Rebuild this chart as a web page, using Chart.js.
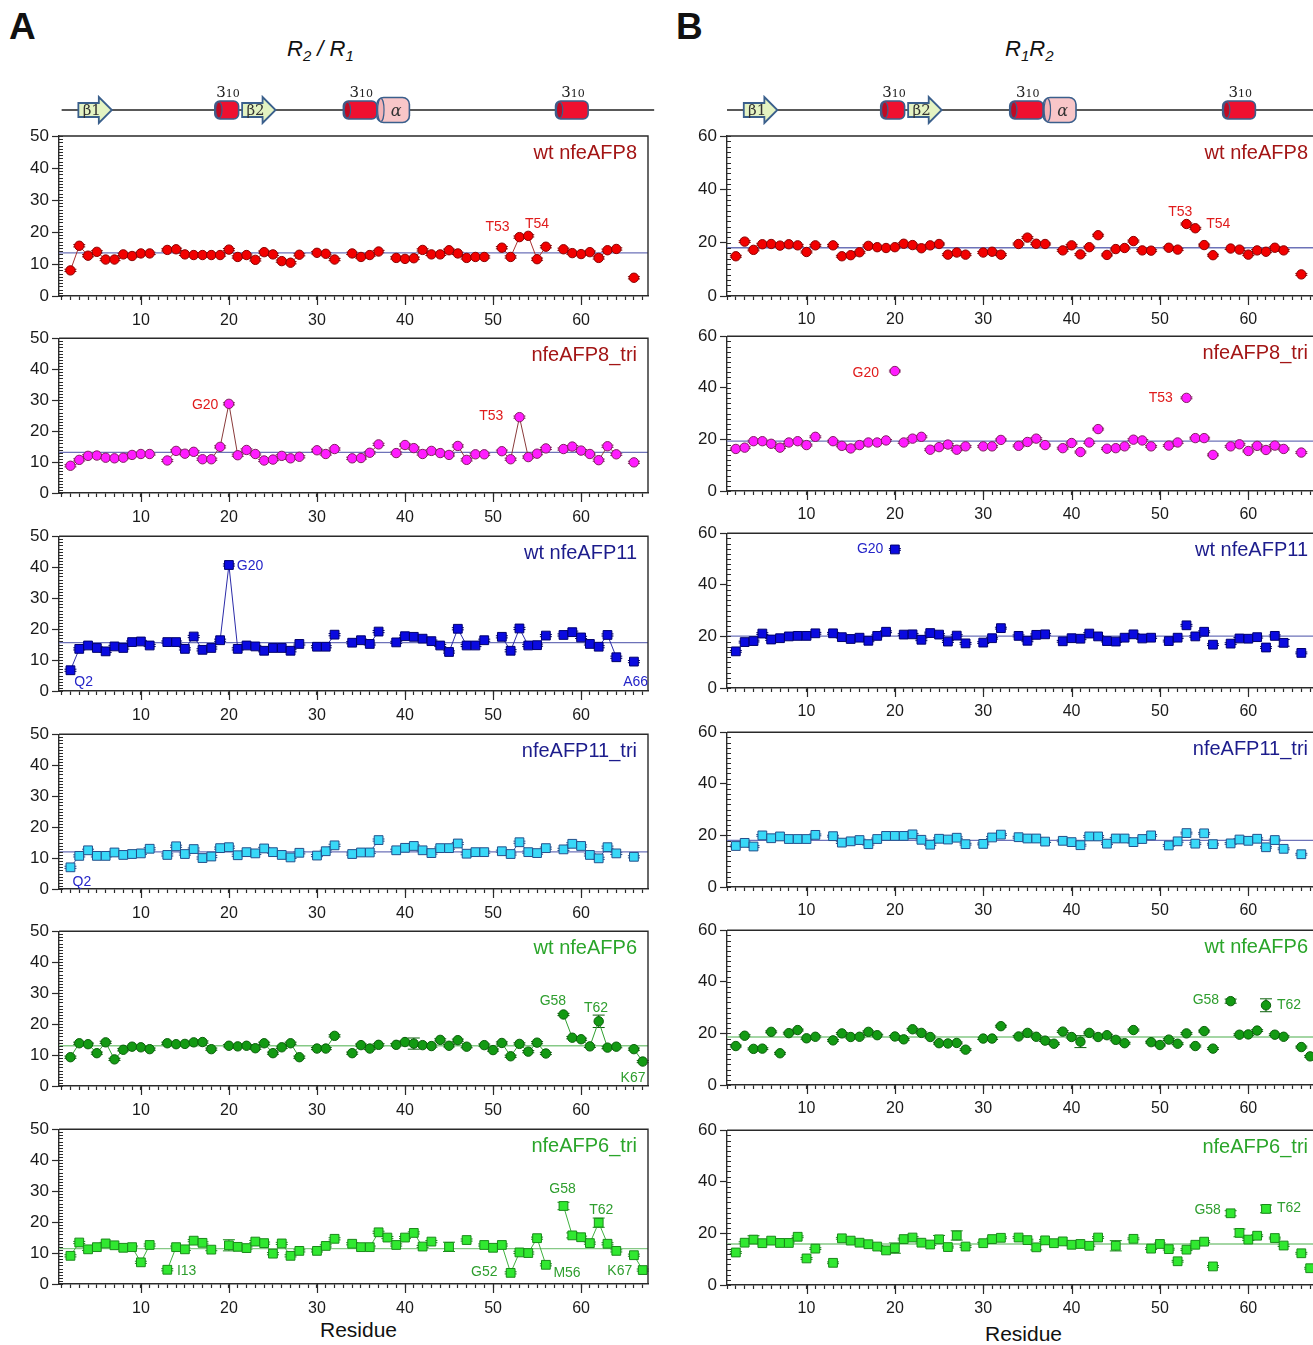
<!DOCTYPE html>
<html>
<head>
<meta charset="utf-8">
<script src="https://cdn.jsdelivr.net/npm/chart.js@4.4.1/dist/chart.umd.min.js"></script>
<style>
  html, body { margin: 0; padding: 0; background: #fff; overflow: hidden; }
  body { width: 1313px; height: 1345px; position: relative; font-family: "Liberation Sans", Arial, sans-serif; color: #111; }
  canvas { position: absolute; }
  .txt { position: absolute; white-space: nowrap; }
  .ttl { font-size: 22px; font-style: italic; }
  .ttl sub { font-size: 15px; }
</style>
</head>
<body>
<div class="txt" style="left:9px;top:6px;font-size:37px;font-weight:bold;">A</div>
<div class="txt" style="left:676px;top:6px;font-size:37px;font-weight:bold;">B</div>
<div class="txt ttl" style="left:287px;top:36px;">R<sub>2</sub> / R<sub>1</sub></div>
<div class="txt ttl" style="left:1005px;top:36px;">R<sub>1</sub>R<sub>2</sub></div>
<div class="txt" style="left:320px;top:1318px;font-size:21px;">Residue</div>
<div class="txt" style="left:985px;top:1322px;font-size:21px;">Residue</div>

<script>
// residue numbers 2..67
const residues = [2,3,4,5,6,7,8,9,10,11,12,13,14,15,16,17,18,19,20,21,22,23,24,25,26,27,28,29,30,31,32,33,34,35,36,37,
  38,39,40,41,42,43,44,45,46,47,48,49,50,51,52,53,54,55,56,57,58,59,60,61,62,63,64,65,66,67];

const panelNames = ['wt nfeAFP8', 'nfeAFP8_tri', 'wt nfeAFP11', 'nfeAFP11_tri', 'wt nfeAFP6', 'nfeAFP6_tri'];

// ---- A: R2/R1 ----
const r2r1Wt8 = [8.0,15.7,12.6,13.8,11.4,11.4,13.0,12.5,13.3,13.3,
  null,14.4,14.6,13.0,12.8,12.8,12.8,12.8,14.5,12.2,
  12.8,11.3,13.7,13.0,10.9,10.4,12.9,null,13.5,13.2,
  11.4,null,13.3,12.2,12.8,13.9,null,11.9,11.6,11.8,
  14.4,13.0,13.0,14.3,13.3,11.9,12.2,12.2,null,15.1,
  12.2,18.4,18.8,11.5,15.4,null,14.6,13.4,13.1,13.7,
  11.9,14.3,14.7,null,5.7,null];
const r2r1Tri8 = [8.8,10.7,12.0,12.1,11.4,11.2,11.4,12.3,12.6,12.6,
  null,10.5,13.6,12.7,13.3,10.9,10.9,14.9,28.8,12.2,
  13.9,12.6,10.5,10.8,12.0,11.2,11.7,null,13.8,12.6,
  14.2,null,11.2,11.3,13.0,15.7,null,12.9,15.5,14.5,
  12.6,13.6,12.9,12.3,15.2,10.7,12.5,12.5,null,13.5,
  10.9,24.5,11.6,12.7,14.4,null,14.2,15.0,13.7,12.6,
  10.6,15.1,12.5,null,9.9,null];
const r2r1Wt11 = [6.7,13.6,14.7,13.9,12.8,14.4,13.9,15.8,16.0,14.7,
  null,15.8,15.8,13.6,17.6,13.3,13.9,16.4,40.7,13.6,
  14.7,14.4,13.0,13.9,13.9,13.0,15.2,null,14.3,14.3,
  18.2,null,15.6,16.4,15.2,19.2,null,15.7,17.7,17.5,
  16.9,16.1,14.7,12.6,20.1,14.7,14.7,16.4,null,17.5,
  13.0,20.2,14.7,14.8,17.9,null,18.1,19.0,17.3,15.2,
  14.3,18.1,10.9,null,9.5,null];
const r2r1Tri11 = [7.0,10.7,12.5,10.7,10.7,11.8,11.0,11.3,11.5,13.0,
  null,11.0,13.8,11.3,12.9,10.0,10.5,13.2,13.5,10.9,
  11.9,11.5,13.1,11.9,11.0,10.2,11.7,null,10.8,12.2,
  14.1,null,11.3,11.8,11.8,15.8,null,12.5,13.3,13.9,
  12.5,11.6,13.2,13.2,14.7,11.4,11.9,11.9,null,12.2,
  11.3,15.1,11.9,11.6,13.2,null,12.8,14.6,13.9,11.0,
  9.9,13.5,11.5,null,10.4,null];
const r2r1Wt6 = [9.3,13.8,13.5,10.6,14.1,8.6,11.7,12.7,12.5,11.9,
  null,13.8,13.5,13.6,14.1,14.2,11.9,null,13.0,12.8,
  13.0,12.2,13.8,10.6,12.5,13.8,9.3,null,12.1,12.1,
  16.2,null,10.6,13.2,12.1,13.3,null,13.3,14.2,13.7,
  13.2,12.9,14.9,13.0,14.8,12.7,null,13.2,11.6,13.9,
  9.6,13.6,11.1,14.0,10.5,null,23.1,15.6,15.1,12.8,
  20.9,12.4,12.7,null,11.9,7.9];
const r2r1Tri6 = [9.1,13.4,11.2,11.9,13.1,12.5,11.7,11.9,7.0,12.6,
  null,4.6,11.9,11.2,14.0,13.3,11.1,null,12.5,12.0,
  11.6,13.7,13.2,9.8,13.1,9.1,10.7,null,10.7,12.3,
  14.6,null,13.0,11.9,11.9,16.7,15.0,12.6,15.0,16.5,
  12.1,13.7,null,12.0,null,14.2,null,12.6,11.7,12.6,
  3.6,10.2,10.0,14.8,6.2,null,25.2,15.7,15.1,13.2,
  19.8,13.0,10.7,null,9.3,4.5];
const r2r1Means = [13.5, 13.1, 15.6, 12.0, 13.0, 11.4];

// ---- B: R1R2 ----
const r1r2Wt8 = [14.9,20.4,17.3,19.4,19.5,18.9,19.4,19.0,16.5,19.0,
  null,19.0,14.9,15.3,16.4,18.8,18.3,18.0,18.3,19.6,
  19.1,17.9,19.0,19.5,15.5,16.3,15.5,null,16.3,16.6,
  15.5,null,19.5,21.9,19.6,19.5,null,17.1,19.0,15.6,
  18.3,22.8,15.4,17.6,18.0,20.6,17.1,17.0,null,18.1,
  17.4,27.0,25.4,19.1,15.3,null,17.8,17.4,15.5,17.1,
  16.6,18.1,17.1,null,8.1,null];
const r1r2Tri8 = [16.3,16.8,19.3,19.3,18.3,16.8,18.8,19.3,17.8,21.0,
  null,19.3,17.5,16.5,17.8,18.8,18.8,19.6,46.5,18.8,
  20.3,21.0,16.0,17.0,18.0,16.0,17.3,null,17.3,17.3,
  19.8,null,17.5,19.0,20.3,17.8,null,16.6,18.6,15.1,
  18.8,24.0,16.4,16.6,17.3,19.9,19.6,17.3,null,17.6,
  18.8,36.1,20.5,20.5,14.0,null,17.3,18.1,15.5,17.5,
  15.9,17.6,16.3,null,14.9,null];
const r1r2Wt11 = [14.2,17.8,18.2,21.1,18.8,19.3,20.0,20.2,20.2,21.2,
  null,21.2,19.7,19.0,19.5,18.3,20.2,21.8,53.7,20.7,
  20.8,18.7,21.3,20.7,18.0,20.3,17.3,null,17.6,19.3,
  23.2,null,20.2,18.3,20.6,20.8,null,18.1,19.3,19.1,
  21.1,20.0,18.2,18.0,19.5,20.8,19.2,19.5,null,18.2,
  19.5,24.3,20.0,21.8,16.8,null,17.2,19.2,19.1,19.7,
  15.7,20.2,17.5,null,13.6,null];
const r1r2Tri11 = [15.9,17.1,15.7,20.0,18.9,19.6,18.6,18.6,18.6,20.2,
  null,19.7,17.2,17.7,18.2,16.6,18.6,19.8,19.8,19.8,
  20.4,18.3,16.4,18.7,18.4,19.1,16.6,null,16.7,19.2,
  20.3,null,19.3,18.8,18.8,17.6,null,17.9,17.4,16.2,
  19.6,19.6,16.8,18.8,18.8,17.4,18.6,20.0,null,16.1,
  17.7,20.9,16.8,20.8,16.6,null,16.9,18.4,17.9,18.7,
  15.4,18.2,14.8,null,12.7,null];
const r1r2Wt6 = [15.1,19.1,14.0,14.1,20.6,12.3,20.1,21.3,18.1,18.7,
  null,17.3,20.0,18.6,18.7,20.6,19.3,null,18.8,17.7,
  21.6,20.2,18.6,16.2,16.1,16.3,13.7,null,18.0,18.0,
  22.8,null,18.8,20.2,18.7,17.2,16.0,20.7,18.6,16.8,
  20.2,18.6,19.3,17.5,16.2,21.3,null,16.6,15.5,17.6,
  16.0,20.0,15.1,20.9,14.1,null,32.5,19.5,19.6,21.1,
  30.9,19.5,18.7,null,14.7,11.1];
const r1r2Tri6 = [12.6,16.4,17.6,16.2,17.2,16.3,16.3,18.7,10.3,14.1,
  null,8.6,18.1,17.2,16.4,15.8,14.9,13.4,14.3,17.8,
  18.4,16.4,15.7,17.7,14.7,19.2,14.9,null,16.2,17.8,
  18.3,null,18.4,17.4,14.6,17.3,16.2,16.9,15.6,15.9,
  15.2,18.4,null,15.2,null,17.9,null,14.1,15.9,13.9,
  9.2,13.7,15.6,16.8,7.2,null,27.8,20.2,17.6,19.1,
  29.5,18.2,15.3,null,12.3,6.5];
const r1r2Means = [18.1, 19.3, 20.1, 18.1, 18.6, 15.9];

// error bars: small default, larger ones by residue
const r2r1Errs = [{}, {}, {}, {}, {41: 1.8, 62: 2.0}, {20: 1.8, 45: 1.5, 58: 1.2, 59: 0.8, 62: 1.5}];
const r1r2Errs = [{}, {}, {64: 1.3}, {}, {41: 2.3, 58: 0.8, 62: 2.5},
  {4: 1.5, 20: 2.0, 25: 1.5, 27: 1.8, 36: 1.0, 45: 2.0, 58: 1.0, 59: 1.5, 62: 1.5}];

// residue labels [text, residue, value]
const r2r1Notes = [
  [['T53', 50.5, 21.6], ['T54', 55, 22.5]],
  [['G20', 17.3, 28.3], ['T53', 49.8, 24.8]],
  [['G20', 22.4, 40.3], ['Q2', 3.5, 2.8], ['A66', 66.2, 2.8]],
  [['Q2', 3.3, 2.2]],
  [['G58', 56.8, 27.3], ['T62', 61.7, 25.2], ['K67', 65.9, 2.7]],
  [['G58', 57.9, 30.7], ['T62', 62.3, 23.9], ['I13', 15.2, 4], ['G52', 49, 3.7], ['M56', 58.4, 3.4], ['K67', 64.4, 4.3]]
];
const r1r2Notes = [
  [['T53', 52.3, 31.5], ['T54', 56.6, 27]],
  [['G20', 16.7, 45.8], ['T53', 50.1, 35.8]],
  [['G20', 17.2, 53.7]],
  [],
  [['G58', 55.2, 33], ['T62', 64.6, 31.1]],
  [['G58', 55.4, 28.9], ['T62', 64.6, 29.6]]
];

// secondary structure (residue ranges)
const secStruct = [
  {kind: 'beta', label: 'β1', from: 2.9, to: 6.7},
  {kind: 'h310', from: 18.4, to: 21.1},
  {kind: 'beta', label: 'β2', from: 21.5, to: 25.3},
  {kind: 'h310', from: 33.0, to: 36.8},
  {kind: 'alpha', label: 'α', from: 36.8, to: 40.5},
  {kind: 'h310', from: 57.1, to: 60.8}
];

const rowStyles = [
  {shape: 'circle', fill: '#f20000', edge: '#8a0000', line: '#a83030', mean: '#6d72b8', title: '#a31515', note: '#e01b1b'},
  {shape: 'circle', fill: '#ff1cff', edge: '#80205e', line: '#8a3a3a', mean: '#6d72b8', title: '#a31515', note: '#e01b1b'},
  {shape: 'rect', fill: '#0a0ae0', edge: '#00006e', line: '#2b2ba8', mean: '#6d72b8', title: '#1c1c8c', note: '#2424c8'},
  {shape: 'rect', fill: '#38d8f8', edge: '#24508c', line: '#3a55a8', mean: '#6d72b8', title: '#1c1c8c', note: '#2424c8'},
  {shape: 'circle', fill: '#139a13', edge: '#0a5f0a', line: '#2f9f2f', mean: '#86c986', title: '#2aa52a', note: '#2e9e2e'},
  {shape: 'rect', fill: '#30e830', edge: '#1a8a1a', line: '#3fb03f', mean: '#86c986', title: '#2aa52a', note: '#2e9e2e'}
];

const columns = [
  {key: 'A', series: [r2r1Wt8, r2r1Tri8, r2r1Wt11, r2r1Tri11, r2r1Wt6, r2r1Tri6], means: r2r1Means,
   errs: r2r1Errs, notes: r2r1Notes, tops: [136, 333, 531, 729, 926, 1124],
   left: 0, width: 660, axisW: 59, padRight: 12, xMin: 0.7, xMax: 67.6, yMax: 50, yStep: 10, minor: 1, lines: true, labelPad: 11},
  {key: 'B', series: [r1r2Wt8, r1r2Tri8, r1r2Wt11, r1r2Tri11, r1r2Wt6, r1r2Tri6], means: r1r2Means,
   errs: r1r2Errs, notes: r1r2Notes, tops: [136, 331, 528, 727, 925, 1125],
   left: 662, width: 680, axisW: 65, padRight: 23, xMin: 1, xMax: 68, yMax: 60, yStep: 20, minor: 2, lines: false, labelPad: 10}
];

const FONT = '"Liberation Sans", Arial, sans-serif';
const PLOT_H = 160, PAD_TOP = 8, XAXIS_H = 38, SS_H = 62;
const EDGE = '#3a5f8c';

function cylinder(ctx, x0, x1, yc, hh, body, rim) {
  ctx.beginPath();
  ctx.roundRect(x0, yc - hh, x1 - x0, 2 * hh, hh * 0.55);
  ctx.fillStyle = body; ctx.fill();
  ctx.strokeStyle = EDGE; ctx.lineWidth = 1.6; ctx.stroke();
  ctx.beginPath();
  ctx.ellipse(x0 + 4, yc, 3.2, hh - 1, 0, 0, Math.PI * 2);
  ctx.fillStyle = rim; ctx.fill();
  ctx.strokeStyle = EDGE; ctx.lineWidth = 1.2; ctx.stroke();
}

function drawStructure(ctx, xs, yc) {
  ctx.save();
  ctx.strokeStyle = '#222';
  ctx.lineWidth = 1.7;
  ctx.beginPath();
  ctx.moveTo(xs.getPixelForValue(1.0), yc);
  ctx.lineTo(xs.getPixelForValue(68.3), yc);
  ctx.stroke();
  secStruct.forEach(s => {
    const x0 = xs.getPixelForValue(s.from), x1 = xs.getPixelForValue(s.to);
    if (s.kind === 'beta') {
      const h = x1 - 13;
      ctx.beginPath();
      ctx.moveTo(x0, yc - 7); ctx.lineTo(h, yc - 7); ctx.lineTo(h, yc - 13);
      ctx.lineTo(x1, yc); ctx.lineTo(h, yc + 13); ctx.lineTo(h, yc + 7);
      ctx.lineTo(x0, yc + 7); ctx.closePath();
      ctx.fillStyle = '#e4f3c2'; ctx.fill();
      ctx.strokeStyle = EDGE; ctx.lineWidth = 1.8; ctx.stroke();
      ctx.fillStyle = '#333';
      ctx.font = '15px "DejaVu Serif", serif';
      ctx.textAlign = 'center'; ctx.textBaseline = 'middle';
      ctx.fillText(s.label, x0 + (x1 - x0) * 0.4, yc + 1);
    } else if (s.kind === 'h310') {
      cylinder(ctx, x0, x1, yc, 9, '#ee1030', '#c00a24');
      const cx = (x0 + x1) / 2;
      ctx.fillStyle = '#222';
      ctx.textBaseline = 'alphabetic';
      ctx.textAlign = 'right';
      ctx.font = '15px "DejaVu Serif", serif';
      ctx.fillText('3', cx - 1, yc - 13);
      ctx.textAlign = 'left';
      ctx.font = '11px "DejaVu Serif", serif';
      ctx.fillText('10', cx - 1, yc - 13);
    } else {
      cylinder(ctx, x0, x1, yc, 12.5, '#f8c6c8', '#f3b3b7');
      ctx.fillStyle = '#333';
      ctx.font = 'italic 16px "DejaVu Serif", serif';
      ctx.textAlign = 'center'; ctx.textBaseline = 'middle';
      ctx.fillText(s.label, (x0 + x1) / 2 + 3, yc + 2);
    }
  });
  ctx.restore();
}

function makeDecor(col, row) {
  const st = rowStyles[row];
  const errs = col.errs[row];
  return {
    id: 'decor' + col.key + row,
    beforeDatasetsDraw(chart) {
      const ctx = chart.ctx, ys = chart.scales.y;
      const ds = chart.data.datasets[0], meta = chart.getDatasetMeta(0);
      ctx.save();
      ctx.strokeStyle = st.edge;
      ctx.lineWidth = 1;
      meta.data.forEach((pt, i) => {
        const d = ds.data[i];
        if (d.y === null) return;
        const e = errs[d.x] || 0.35;
        const y1 = ys.getPixelForValue(d.y + e), y2 = ys.getPixelForValue(d.y - e);
        ctx.beginPath();
        ctx.moveTo(pt.x, y1); ctx.lineTo(pt.x, y2);
        ctx.moveTo(pt.x - 6, y1); ctx.lineTo(pt.x + 6, y1);
        ctx.moveTo(pt.x - 6, y2); ctx.lineTo(pt.x + 6, y2);
        ctx.stroke();
      });
      ctx.restore();
    },
    afterDraw(chart) {
      const ctx = chart.ctx, a = chart.chartArea, xs = chart.scales.x, ys = chart.scales.y;
      ctx.save();
      // frame
      ctx.strokeStyle = '#2a2a2a';
      ctx.lineWidth = 1.4;
      ctx.beginPath();
      ctx.moveTo(a.left, a.top); ctx.lineTo(a.right, a.top); ctx.lineTo(a.right, a.bottom);
      ctx.stroke();
      ctx.lineWidth = 1.2;
      ctx.beginPath();
      // minor y ticks (inside)
      for (let v = 0; v <= col.yMax; v += col.minor) {
        const y = Math.round(ys.getPixelForValue(v)) + 0.5;
        ctx.moveTo(a.left, y); ctx.lineTo(a.left + 4, y);
      }
      // longer major x ticks
      for (let v = 10; v <= col.xMax; v += 10) {
        const x = Math.round(xs.getPixelForValue(v)) + 0.5;
        ctx.moveTo(x, a.bottom); ctx.lineTo(x, a.bottom + 9);
      }
      ctx.stroke();
      // panel name
      ctx.fillStyle = st.title;
      ctx.font = '20px ' + FONT;
      ctx.textAlign = 'right'; ctx.textBaseline = 'middle';
      ctx.fillText(panelNames[row], a.right - 11, a.top + 17);
      // residue labels
      ctx.fillStyle = st.note;
      ctx.font = '14px ' + FONT;
      ctx.textAlign = 'center';
      col.notes[row].forEach(([t, r, v]) => {
        ctx.fillText(t, xs.getPixelForValue(r), ys.getPixelForValue(v));
      });
      ctx.restore();
      if (row === 0) drawStructure(ctx, xs, a.top - 26);
    }
  };
}

columns.forEach(col => {
  col.series.forEach((vals, row) => {
    const st = rowStyles[row];
    const extra = row === 0 ? SS_H : 0;
    const cv = document.createElement('canvas');
    const h = extra + PAD_TOP + PLOT_H + XAXIS_H;
    cv.width = col.width; cv.height = h;
    cv.style.left = col.left + 'px';
    cv.style.top = (col.tops[row] - PAD_TOP - extra) + 'px';
    cv.style.width = col.width + 'px'; cv.style.height = h + 'px';
    document.body.appendChild(cv);

    new Chart(cv, {
      type: 'scatter',
      data: {
        datasets: [{
          data: residues.map((r, i) => ({x: r, y: vals[i]})),
          showLine: col.lines,
          spanGaps: false,
          borderColor: st.line,
          borderWidth: 1,
          pointStyle: st.shape,
          pointRadius: st.shape === 'rect' ? 6.2 : 4.7,
          pointBackgroundColor: st.fill,
          pointBorderColor: st.edge,
          pointBorderWidth: 1
        }, {
          data: [{x: col.xMin, y: col.means[row]}, {x: col.xMax, y: col.means[row]}],
          showLine: true,
          borderColor: st.mean,
          borderWidth: 1.3,
          pointRadius: 0
        }]
      },
      options: {
        responsive: false,
        animation: false,
        events: [],
        layout: {padding: {top: PAD_TOP + extra, right: col.padRight, left: 0, bottom: 0}},
        plugins: {legend: {display: false}, tooltip: {enabled: false}},
        scales: {
          x: {
            type: 'linear', min: col.xMin, max: col.xMax,
            afterFit: s => { s.height = XAXIS_H; },
            border: {display: true, color: '#2a2a2a', width: 1.4},
            grid: {drawOnChartArea: false, drawTicks: true, tickLength: 4, tickWidth: 1.2, color: '#2a2a2a'},
            ticks: {
              stepSize: 1, autoSkip: false, includeBounds: false, maxRotation: 0, padding: col.labelPad,
              color: '#1a1a1a', font: {family: FONT, size: 16},
              callback: v => (v % 10 === 0 ? v : '')
            }
          },
          y: {
            min: 0, max: col.yMax,
            afterFit: s => { s.width = col.axisW; },
            border: {display: true, color: '#2a2a2a', width: 1.4},
            grid: {drawOnChartArea: false, drawTicks: true, tickLength: 7, tickWidth: 1.2, color: '#2a2a2a'},
            ticks: {stepSize: col.yStep, padding: 3, color: '#1a1a1a', font: {family: FONT, size: 17}}
          }
        }
      },
      plugins: [makeDecor(col, row)]
    });
  });
});
</script>
</body>
</html>
